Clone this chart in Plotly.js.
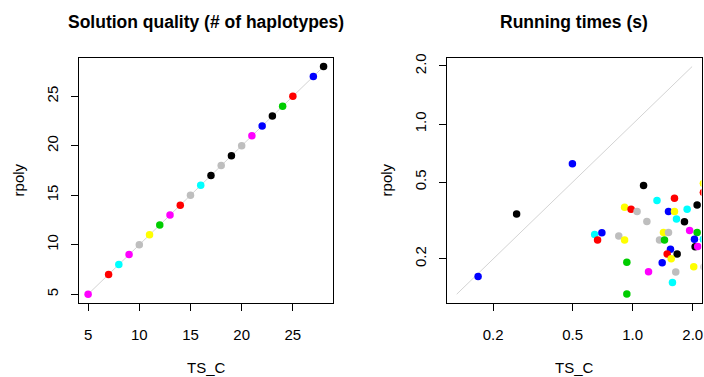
<!DOCTYPE html>
<html>
<head>
<meta charset="utf-8">
<script src="https://cdn.plot.ly/plotly-3.0.1.min.js"></script>
<style>html,body{margin:0;padding:0;background:#fff;}#chart{width:704px;height:377px;}</style>
</head>
<body>
<div id="chart"></div>
<script>
// ---- Panel 1: Solution quality (# of haplotypes) ----
const qualityTS    = [5, 7, 8, 9, 10, 11, 12, 13, 14, 15, 16, 17, 18, 19, 20, 21, 22, 23, 24, 25, 27, 28];
const qualityRpoly = [5, 7, 8, 9, 10, 11, 12, 13, 14, 15, 16, 17, 18, 19, 20, 21, 22, 23, 24, 25, 27, 28];
const qualityColors = ["magenta","red","cyan","magenta","gray","yellow","green","magenta","red","gray","cyan","black","gray","black","gray","magenta","blue","black","green","red","blue","black"];
const qualityDiag = [5, 28];
const qualityTicks = [5, 10, 15, 20, 25];
const qualityTickText = ["5", "10", "15", "20", "25"];

// ---- Panel 2: Running times (s) ----
const timeTS = [0.168, 0.262, 0.499, 1.134, 1.324, 1.620, 2.26, 2.26, 0.911, 0.982, 1.052, 1.512, 1.620, 1.875, 2.104,
                1.178, 1.658, 1.818, 0.645, 0.701, 0.667, 0.852, 0.911, 1.427, 1.512, 1.363, 1.444, 1.930, 2.104, 2.04,
                2.26, 2.056, 2.118, 1.547, 1.489, 1.671, 1.560, 1.406, 0.935, 1.201, 1.644, 2.023, 1.583, 0.935, 2.28];
const timeRpoly = [0.162, 0.342, 0.623, 0.481, 0.402, 0.413, 0.493, 0.442, 0.371, 0.362, 0.352, 0.352, 0.352, 0.362, 0.381,
                   0.313, 0.322, 0.312, 0.268, 0.273, 0.251, 0.263, 0.251, 0.274, 0.274, 0.251, 0.251, 0.281, 0.274, 0.253,
                   0.253, 0.2316, 0.232, 0.2246, 0.2123, 0.212, 0.2007, 0.1913, 0.1922, 0.1718, 0.1712, 0.1824, 0.1508, 0.1317, 0.1818];
const timeColors = ["blue","black","blue","black","cyan","red","yellow","red","yellow","red","gray","blue","yellow","cyan","black",
                    "gray","cyan","black","cyan","blue","red","gray","yellow","yellow","gray","gray","green","magenta","green","blue",
                    "cyan","black","magenta","blue","red","black","yellow","blue","green","magenta","gray","yellow","cyan","green","gray"];
const timeDiag = [0.1313, 1.986];
const timeTicks = [0.2, 0.5, 1.0, 2.0];
const timeTickText = ["0.2", "0.5", "1.0", "2.0"];

const rPalette = {black:"#000000", red:"#FF0000", green:"#00CD00", blue:"#0000FF", cyan:"#00FFFF",
                  magenta:"#FF00FF", yellow:"#FFFF00", gray:"#BEBEBE"};

const W = 704, H = 377;
const FONT = "Liberation Sans, Arial, Helvetica, sans-serif";
const px2x = p => p / W;
const py2y = p => 1 - p / H;

const traces = [
  {x: qualityDiag, y: qualityDiag, xaxis: "x", yaxis: "y", mode: "lines",
   line: {color: "#D3D3D3", width: 1}, hoverinfo: "skip", showlegend: false},
  {x: qualityTS, y: qualityRpoly, xaxis: "x", yaxis: "y", mode: "markers",
   marker: {size: 7.5, color: qualityColors.map(c => rPalette[c]), line: {width: 0}}, showlegend: false},
  {x: timeDiag, y: timeDiag, xaxis: "x2", yaxis: "y2", mode: "lines",
   line: {color: "#D3D3D3", width: 1}, hoverinfo: "skip", showlegend: false},
  {x: timeTS, y: timeRpoly, xaxis: "x2", yaxis: "y2", mode: "markers", cliponaxis: true,
   marker: {size: 7.5, color: timeColors.map(c => rPalette[c]), line: {width: 0}}, showlegend: false}
];

const baseAxis = {
  showgrid: false, zeroline: false, showline: true, mirror: true,
  linecolor: "#000", linewidth: 1, ticks: "outside", ticklen: 7, tickwidth: 1, tickcolor: "#000",
  tickfont: {family: FONT, size: 15, color: "#000"}, fixedrange: true
};

const dom1x = [px2x(78.7), px2x(333)];
const dom2x = [px2x(447.3), px2x(701.5)];
const domy = [py2y(303.3), py2y(57.5)];
const linRange = [4.08, 28.92];
const logRange = [-0.929, 0.345];

const layout = {
  width: W, height: H, margin: {l: 0, r: 0, t: 0, b: 0},
  paper_bgcolor: "#fff", plot_bgcolor: "#fff", showlegend: false,
  xaxis: Object.assign({}, baseAxis, {domain: dom1x, range: linRange, tickvals: qualityTicks, ticktext: qualityTickText, anchor: "y", ticklabelstandoff: 11}),
  yaxis: Object.assign({}, baseAxis, {domain: domy, range: linRange, tickvals: qualityTicks, ticktext: qualityTickText, anchor: "x", tickangle: -90, ticklabelstandoff: 7}),
  xaxis2: Object.assign({}, baseAxis, {domain: dom2x, type: "log", range: logRange, tickvals: timeTicks, ticktext: timeTickText, anchor: "y2", ticklabelstandoff: 11}),
  yaxis2: Object.assign({}, baseAxis, {domain: domy, type: "log", range: logRange, tickvals: timeTicks, ticktext: timeTickText, anchor: "x2", tickangle: -90, ticklabelstandoff: 7}),
  annotations: [
    {text: "<b>Solution quality (# of haplotypes)</b>", x: px2x(206), y: py2y(22), xref: "paper", yref: "paper",
     xanchor: "center", yanchor: "middle", showarrow: false, font: {family: FONT, size: 17.5, color: "#000"}},
    {text: "<b>Running times (s)</b>", x: px2x(574.4), y: py2y(22), xref: "paper", yref: "paper",
     xanchor: "center", yanchor: "middle", showarrow: false, font: {family: FONT, size: 17.5, color: "#000"}},
    {text: "TS_C", x: px2x(206), y: py2y(367), xref: "paper", yref: "paper",
     xanchor: "center", yanchor: "middle", showarrow: false, font: {family: FONT, size: 15, color: "#000"}},
    {text: "TS_C", x: px2x(574.4), y: py2y(367), xref: "paper", yref: "paper",
     xanchor: "center", yanchor: "middle", showarrow: false, font: {family: FONT, size: 15, color: "#000"}},
    {text: "rpoly", x: px2x(18), y: py2y(180.4), xref: "paper", yref: "paper", textangle: -90,
     xanchor: "center", yanchor: "middle", showarrow: false, font: {family: FONT, size: 15, color: "#000"}},
    {text: "rpoly", x: px2x(386), y: py2y(180.4), xref: "paper", yref: "paper", textangle: -90,
     xanchor: "center", yanchor: "middle", showarrow: false, font: {family: FONT, size: 15, color: "#000"}}
  ]
};

Plotly.newPlot("chart", traces, layout, {staticPlot: true, displayModeBar: false});
</script>
</body>
</html>
